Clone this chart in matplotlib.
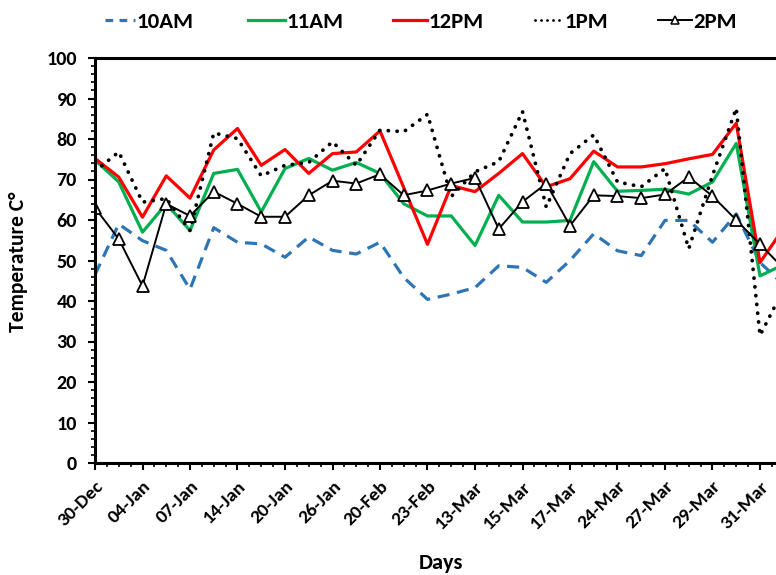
import matplotlib
matplotlib.use("Agg")
import matplotlib.pyplot as plt
from matplotlib.ticker import MultipleLocator, FixedLocator
from matplotlib.lines import Line2D

plt.rcParams['font.family'] = ['Carlito', 'Lato', 'DejaVu Sans']
plt.rcParams['font.weight'] = 'bold'

# Tick labels shown on every second reading
day_labels = ["30-Dec", "04-Jan", "07-Jan", "14-Jan", "20-Jan", "26-Jan", "20-Feb",
              "23-Feb", "13-Mar", "15-Mar", "17-Mar", "24-Mar", "27-Mar", "29-Mar", "31-Mar"]

# Temperature readings per hour (°C)
t_10am = [46.5, 59.0, 54.9, 52.5, 42.9, 58.1, 54.5, 54.1, 50.8, 55.8,
          52.5, 51.6, 54.5, 45.8, 40.4, 41.7, 43.3, 48.7, 48.3, 44.6,
          50.0, 56.6, 52.4, 51.2, 59.9, 59.9, 54.5, 61.5, 49.5, 44.0]
t_11am = [74.8, 69.4, 57.0, 64.0, 57.4, 71.5, 72.5, 62.0, 72.7, 75.2,
          72.3, 74.2, 71.5, 64.0, 61.0, 61.0, 53.7, 66.1, 59.5, 59.5,
          59.9, 74.4, 67.1, 67.3, 67.6, 66.4, 69.4, 78.9, 46.2, 49.0]
t_12pm = [75.2, 70.6, 60.7, 70.9, 65.4, 77.3, 82.6, 73.5, 77.4, 71.5,
          76.4, 76.8, 82.0, 68.0, 54.0, 68.5, 67.0, 71.5, 76.4, 68.2,
          70.2, 77.0, 73.1, 73.1, 73.9, 75.1, 76.2, 83.9, 49.5, 58.0]
t_1pm = [72.0, 76.8, 64.4, 65.3, 57.4, 81.5, 80.1, 70.9, 73.5, 74.2,
         79.3, 73.5, 82.2, 81.8, 86.1, 65.8, 71.9, 74.4, 86.8, 63.2,
         76.4, 81.0, 69.4, 68.2, 72.7, 52.9, 71.0, 87.6, 31.5, 43.0]
t_2pm = [63.0, 55.3, 43.7, 64.0, 61.0, 67.0, 64.0, 60.8, 60.8, 66.1,
         69.7, 69.0, 71.3, 66.1, 67.3, 69.0, 70.4, 57.8, 64.5, 69.0,
         58.6, 66.1, 65.9, 65.4, 66.3, 70.6, 65.9, 60.0, 54.0, 48.0]

series_names = ["10AM", "11AM", "12PM", "1PM", "2PM"]

W, H = 776, 575
fig = plt.figure(figsize=(W / 100, H / 100), dpi=100)
# plot area runs past the right edge of the canvas
ax = fig.add_axes([95 / W, 112 / H, 712.5 / W, 405 / H])

x = list(range(len(t_2pm)))

styles = [
    dict(color="#2E75B6", lw=2.3, linestyle=(0, (3.8, 2.4))),
    dict(color="#00B050", lw=2.3),
    dict(color="#FF0000", lw=2.3),
    dict(color="black", lw=2.7, linestyle=(0, (0.05, 2.3)), dash_capstyle="round"),
    dict(color="black", lw=1.4, marker="^", markersize=8, markerfacecolor="white",
         markeredgecolor="black", markeredgewidth=1.3),
]
for ys, st in zip([t_10am, t_11am, t_12pm, t_1pm, t_2pm], styles):
    ax.plot(x, ys, **st)

ax.set_xlim(0, 30)
ax.set_ylim(0, 100)

ax.yaxis.set_major_locator(MultipleLocator(10))
ax.yaxis.set_minor_locator(MultipleLocator(2))
ax.xaxis.set_major_locator(FixedLocator(list(range(0, 2 * len(day_labels), 2))))
ax.xaxis.set_minor_locator(MultipleLocator(0.5))
ax.set_xticklabels(day_labels, rotation=45, ha="right", va="top",
                   rotation_mode="anchor", fontsize=14, fontweight="bold")
for lbl in ax.get_yticklabels():
    lbl.set_fontsize(14.5)
    lbl.set_fontweight("bold")

ax.tick_params(axis="both", which="major", direction="out", length=5, width=1.5)
ax.tick_params(axis="both", which="minor", direction="out", length=3, width=1.2)
ax.tick_params(axis="y", which="major", pad=8)
ax.tick_params(axis="x", which="major", pad=6)

for side in ["left", "bottom", "top", "right"]:
    ax.spines[side].set_linewidth(2.2)
    ax.spines[side].set_color("black")

fig.text(18 / W, 1 - 262 / H, "Temperature C°", rotation=90, ha="center", va="center",
         fontsize=15.5, fontweight="bold")
fig.text(441 / W, 1 - 563 / H, "Days", ha="center", va="center",
         fontsize=16, fontweight="bold")

# legend row drawn along the top of the figure
legend_handles = [(105, 135), (248, 285), (393, 427), (535, 563), (658, 692)]
legend_y = 1 - 20 / H
hstyles = [
    dict(color="#2E75B6", lw=2.3, linestyle=(0, (2.4, 2.0))),
    dict(color="#00B050", lw=2.3),
    dict(color="#FF0000", lw=2.3),
    dict(color="black", lw=2.0, linestyle=(0, (0.05, 2.1)), dash_capstyle="round"),
    dict(color="black", lw=1.4),
]
for (x0, x1), name, st in zip(legend_handles, series_names, hstyles):
    fig.add_artist(Line2D([x0 / W, x1 / W], [legend_y, legend_y],
                          transform=fig.transFigure, **st))
    if name == "2PM":
        fig.add_artist(Line2D([(x0 + x1) / 2 / W], [legend_y], transform=fig.transFigure,
                              marker="^", markersize=6, markerfacecolor="white",
                              markeredgecolor="black", markeredgewidth=1.1, linestyle="none"))
    fig.text((x1 + 1) / W, legend_y, name, ha="left", va="center_baseline",
             fontsize=16.5, fontweight="bold")

fig.savefig("out.png", dpi=100)
